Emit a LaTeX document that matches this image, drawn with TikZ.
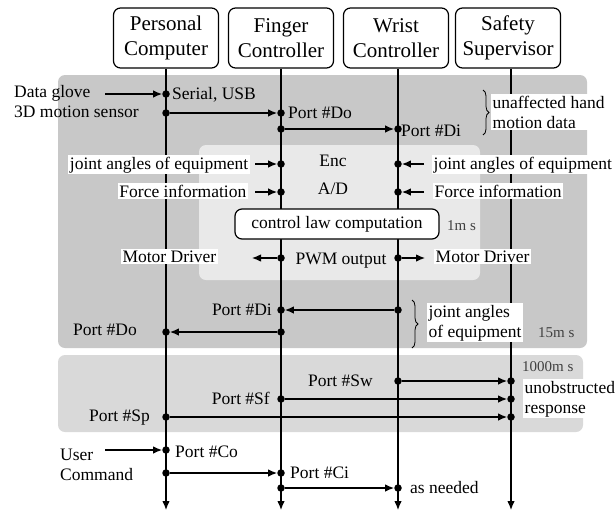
\documentclass[tikz,border=0pt]{standalone}
\usepackage{fontspec}
\setmainfont{Liberation Serif}
\usetikzlibrary{arrows.meta,decorations.pathreplacing}
\definecolor{bandA}{RGB}{200,200,200}
\definecolor{bandB}{RGB}{217,217,217}
\definecolor{innerbg}{RGB}{233,233,233}
\begin{document}
\begin{tikzpicture}[x=1pt,y=-1pt,
  hdr/.style={draw,line width=1.2pt,rounded corners=7pt,minimum width=105pt,minimum height=60pt,
    align=center,inner sep=2pt,font=\fontsize{21}{25}\selectfont},
  txt/.style={font=\fontsize{17.5}{20}\selectfont,inner sep=0pt},
  wtxt/.style={txt,fill=white,inner sep=1.5pt},
  tm/.style={font=\fontsize{15}{18}\selectfont,inner sep=0pt,text=black!75},
  dot/.style={circle,fill=black,inner sep=0pt,minimum size=7.5pt},
  wire/.style={line width=1.2pt},
  arr/.style={wire,-{Latex[length=9pt,width=7.5pt]}},
  brc/.style={decorate,decoration={brace,amplitude=6pt},line width=0.8pt}
]
\useasboundingbox (0,0) rectangle (615,512);

% background bands
\fill[bandA, rounded corners=7pt] (58,75) rectangle (587,348);
\fill[innerbg, rounded corners=7pt] (199,145) rectangle (480,280);
\fill[bandB, rounded corners=7pt] (58,355) rectangle (583,432);

% unit headers
\node[hdr] (pc) at (166,38) {Personal\\Computer};
\node[hdr] (fc) at (281,38) {Finger\\Controller};
\node[hdr] (wc) at (396,38) {Wrist\\Controller};
\node[hdr] (ss) at (508,38) {Safety\\Supervisor};

% time axes
\coordinate (pcend) at (166,510);
\coordinate (fcend) at (281,510);
\coordinate (wcend) at (398,510);
\coordinate (ssend) at (511,510);
\draw[arr] (pc.south -| pcend) -- (pcend);
\draw[arr] (fc.south -| fcend) -- (fcend);
\draw[arr] (wc.south -| wcend) -- (wcend);
\draw[arr] (ss.south -| ssend) -- (ssend);

% control law block
\node[draw,fill=white,line width=1.2pt,rounded corners=7pt,minimum width=204pt,minimum height=30pt,
  font=\fontsize{17.5}{20}\selectfont] (claw) at (337,224) {control law computation};

% labels on white (multi-line nodes: base = last line)
\node[wtxt,anchor=base east] (jaLt) at (250,169) {joint angles of equipment};
\node[wtxt,anchor=base east] (fiLt) at (248,197) {Force information};
\node[wtxt,anchor=base west] (jaRt) at (432,169) {joint angles of equipment};
\node[wtxt,anchor=base west] (fiRt) at (433,197) {Force information};
\node[wtxt,anchor=base east] (mdLt) at (218,262) {Motor Driver};
\node[wtxt,anchor=base west] (mdRt) at (434,262) {Motor Driver};
\node[wtxt,anchor=base west,align=left] (handt) at (491,128) {unaffected hand\\motion data};
\node[wtxt,anchor=base west,align=left] (eqt) at (427,337) {joint angles\\of equipment};
\node[wtxt,anchor=base west,align=left] (respt) at (523,413) {unobstructed\\response};

% braces
\draw[brc] (483,90) -- (483,135);
\draw[brc] (412,300) -- (412,348);

% plain labels
\node[txt,anchor=base west] (glovet) at (14,97) {Data glove};
\node[txt,anchor=base west] (sensort) at (14,117) {3D motion sensor};
\node[txt,anchor=base west] (sert) at (172,99) {Serial, USB};
\node[txt,anchor=base west] (pdo1) at (288,118) {Port \#Do};
\node[txt,anchor=base west] (pdi1) at (401,136) {Port \#Di};
\node[txt,anchor=base] (enct) at (333,166) {Enc};
\node[txt,anchor=base] (adt) at (333,194) {A/D};
\node[txt,anchor=base] (pwmt) at (341,264) {PWM output};
\node[tm,anchor=base west] (t1) at (447,230) {1m s};
\node[txt,anchor=base east] (pdi2) at (272,315) {Port \#Di};
\node[txt,anchor=base east] (pdo2) at (137,335) {Port \#Do};
\node[tm,anchor=base west] (t15) at (538,337) {15m s};
\node[tm,anchor=base west] (t1000) at (522,371) {1000m s};
\node[txt,anchor=base east] (psw) at (373,386) {Port \#Sw};
\node[txt,anchor=base east] (psf) at (270,404) {Port \#Sf};
\node[txt,anchor=base east] (psp) at (150,421) {Port \#Sp};
\node[txt,anchor=base west,align=left] (usert) at (60,480) {User\\Command};
\node[txt,anchor=base west] (pco) at (175,457) {Port \#Co};
\node[txt,anchor=base west] (pci) at (290,478) {Port \#Ci};
\node[txt,anchor=base west] (needt) at (410,493) {as needed};

% junction dots: Personal Computer
\node[dot] (pcSer) at (166,94) {};
\node[dot] (pcOut) at (166,113) {};
\node[dot] (pcDo) at (166,332) {};
\node[dot] (pcSp) at (166,417) {};
\node[dot] (pcCo) at (166,450) {};
\node[dot] (pcCmd) at (166,473) {};
% Finger Controller
\node[dot] (fcDo) at (281,113) {};
\node[dot] (fcOut) at (281,129) {};
\node[dot] (fcEnc) at (281,164) {};
\node[dot] (fcAD) at (281,192) {};
\node[dot] (fcPWM) at (281,258) {};
\node[dot] (fcDi) at (281,310) {};
\node[dot] (fcDoOut) at (281,332) {};
\node[dot] (fcSf) at (281,399) {};
\node[dot] (fcCi) at (281,473) {};
\node[dot] (fcNeed) at (281,488) {};
% Wrist Controller
\node[dot] (wcDi) at (398,129) {};
\node[dot] (wcEnc) at (398,164) {};
\node[dot] (wcAD) at (398,192) {};
\node[dot] (wcPWM) at (398,258) {};
\node[dot] (wcOut) at (398,310) {};
\node[dot] (wcSw) at (398,381) {};
\node[dot] (wcNeed) at (398,488) {};
% Safety Supervisor
\node[dot] (ssSw) at (511,381) {};
\node[dot] (ssSf) at (511,399) {};
\node[dot] (ssSp) at (511,417) {};

% free ends of external signals
\coordinate (glove) at (105,94);
\coordinate (jaL) at (255,164);
\coordinate (fiL) at (255,192);
\coordinate (jaR) at (424,164);
\coordinate (fiR) at (424,192);
\coordinate (mdL) at (252,258);
\coordinate (mdR) at (425,258);
\coordinate (user) at (105,450);

% signal flow
\draw[arr] (glove) -- (pcSer);
\draw[arr] (pcOut) -- (fcDo);
\draw[arr] (fcOut) -- (wcDi);
\draw[arr] (jaL) -- (fcEnc);
\draw[arr] (fiL) -- (fcAD);
\draw[arr] (jaR) -- (wcEnc);
\draw[arr] (fiR) -- (wcAD);
\draw[arr] (fcPWM) -- (mdL);
\draw[arr] (wcPWM) -- (mdR);
\draw[arr] (wcOut) -- (fcDi);
\draw[arr] (fcDoOut) -- (pcDo);
\draw[arr] (wcSw) -- (ssSw);
\draw[arr] (fcSf) -- (ssSf);
\draw[arr] (pcSp) -- (ssSp);
\draw[arr] (user) -- (pcCo);
\draw[arr] (pcCmd) -- (fcCi);
\draw[arr] (fcNeed) -- (wcNeed);
\end{tikzpicture}
\end{document}
